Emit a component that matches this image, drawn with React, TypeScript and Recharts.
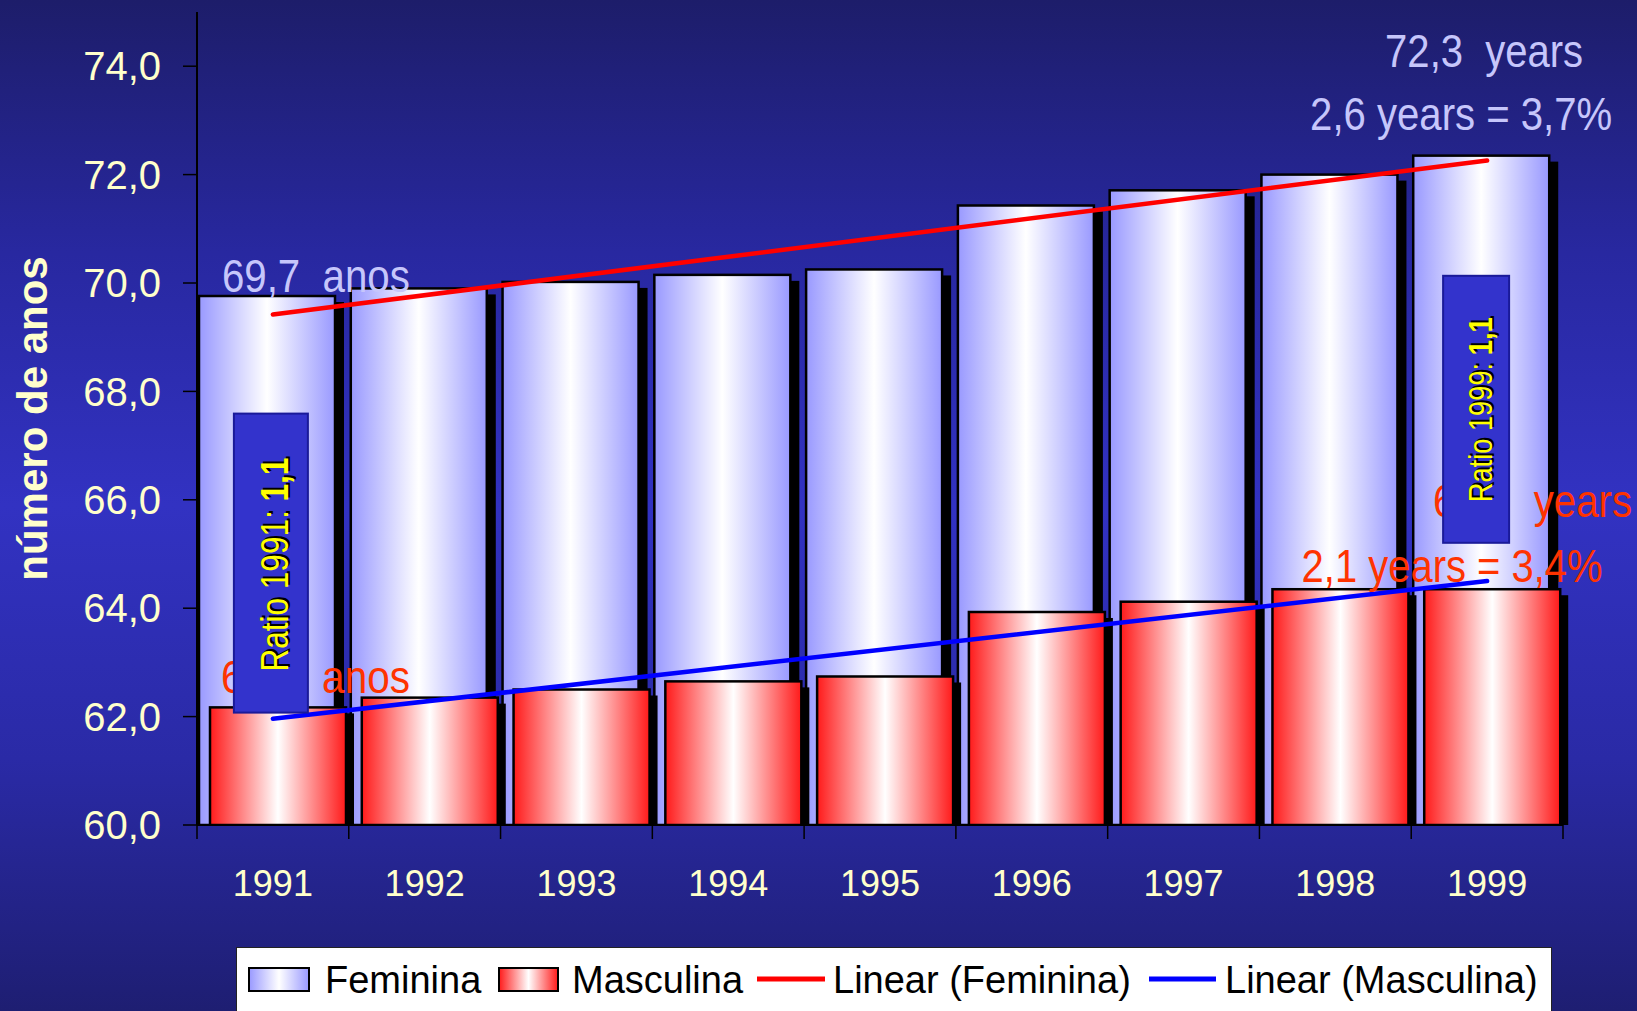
import { Bar, ComposedChart, Line, ReferenceDot, XAxis, YAxis } from "recharts"

const years = ["1991", "1992", "1993", "1994", "1995", "1996", "1997", "1998", "1999"]
const feminina = [69.76, 69.9, 70.02, 70.15, 70.25, 71.43, 71.71, 72.0, 72.35]
const masculina = [62.17, 62.35, 62.5, 62.65, 62.74, 63.93, 64.12, 64.35, 64.35]
// trend line end points (1991, 1999)
const femTrendEnds = [69.42, 72.26]
const mascTrendEnds = [61.96, 64.5]
const yTicks = [60, 62, 64, 66, 68, 70, 72, 74]

const data = years.map((year, i) => ({
  year,
  feminina: feminina[i],
  masculina: masculina[i],
  femTrend: i === 0 ? femTrendEnds[0] : i === years.length - 1 ? femTrendEnds[1] : null,
  mascTrend: i === 0 ? mascTrendEnds[0] : i === years.length - 1 ? mascTrendEnds[1] : null,
}))

const W = 1637
const H = 1011
const SANS = "'Liberation Sans', Arial, sans-serif"
const CREAM = "#ffffcc"
const LAVENDER = "#c6c6fb"
const ORANGE_RED = "#ff3300"
const X_TICK_SIZE = 14
const X_TICK_MARGIN = 31

function FemBar(props: any) {
  const { x, y, width, height } = props
  if (!height) return null
  return (
    <g>
      <rect x={x + 9} y={y + 6} width={width} height={height - 6} fill="#000" />
      <rect x={x} y={y} width={width} height={height} fill="url(#femGrad)" stroke="#000" strokeWidth={2.5} />
    </g>
  )
}

function MascBar(props: any) {
  const { x, y, width, height } = props
  if (!height) return null
  return (
    <g>
      <rect x={x + 8} y={y + 6} width={width} height={height - 6} fill="#000" />
      <rect x={x} y={y} width={width} height={height} fill="url(#mascGrad)" stroke="#000" strokeWidth={2.5} />
    </g>
  )
}

function YearTick(props: any) {
  const { x, y, payload, index, visibleTicksCount } = props
  const half = payload?.offset ?? 0
  const axisY = y - X_TICK_SIZE - X_TICK_MARGIN
  return (
    <g>
      <line x1={x - half} y1={axisY} x2={x - half} y2={axisY + X_TICK_SIZE} stroke="#000" strokeWidth={1.5} />
      {index === visibleTicksCount - 1 && (
        <line x1={x + half} y1={axisY} x2={x + half} y2={axisY + X_TICK_SIZE} stroke="#000" strokeWidth={1.5} />
      )}
      <text x={x} y={y} dy="0.71em" textAnchor="middle" fill={CREAM} fontSize={36} fontFamily={SANS}>
        {payload.value}
      </text>
    </g>
  )
}

function YLabel(props: any) {
  const { viewBox } = props
  const cx = viewBox.x - 30
  const cy = viewBox.y + viewBox.height / 2
  return (
    <text
      x={cx}
      y={cy}
      transform={`rotate(-90 ${cx} ${cy})`}
      textAnchor="middle"
      fill={CREAM}
      fontSize={42}
      fontWeight="bold"
      fontFamily={SANS}
    >
      número de anos
    </text>
  )
}

// slide annotations use a condensed face: squeeze Arial to the measured width
function Note({ x, y, color, len, children, anchor = "start" }: any) {
  return (
    <text
      x={x}
      y={y}
      fill={color}
      fontSize={46}
      fontFamily={SANS}
      textAnchor={anchor}
      textLength={len}
      lengthAdjust="spacingAndGlyphs"
      style={{ whiteSpace: "pre" }}
    >
      {children}
    </text>
  )
}

function RatioBox({ x, y, w, h, tx, ty, size, len, label }: any) {
  return (
    <g>
      <rect x={x} y={y} width={w} height={h} fill="#3333cc" stroke="#1a1a99" strokeWidth={2} />
      <g transform={`rotate(-90 ${tx} ${ty})`}>
        <text x={tx + 2} y={ty + 2} textAnchor="middle" fill="#000" fontSize={size} fontFamily={SANS} textLength={len} lengthAdjust="spacingAndGlyphs">
          {label} <tspan fontWeight="bold">1,1</tspan>
        </text>
        <text x={tx} y={ty} textAnchor="middle" fill="#ffff00" fontSize={size} fontFamily={SANS} textLength={len} lengthAdjust="spacingAndGlyphs">
          {label} <tspan fontWeight="bold">1,1</tspan>
        </text>
      </g>
    </g>
  )
}

function Legend() {
  return (
    <svg width={1316} height={70} style={{ position: "absolute", left: 236, top: 947 }}>
      <defs>
        <linearGradient id="femGradL" x1="0" y1="0" x2="1" y2="0">
          <stop offset="0" stopColor="#9999ff" />
          <stop offset="0.5" stopColor="#ffffff" />
          <stop offset="1" stopColor="#9999ff" />
        </linearGradient>
        <linearGradient id="mascGradL" x1="0" y1="0" x2="1" y2="0">
          <stop offset="0" stopColor="#ff1a1a" />
          <stop offset="0.5" stopColor="#ffffff" />
          <stop offset="1" stopColor="#ff1a1a" />
        </linearGradient>
      </defs>
      <rect x={0.5} y={0.5} width={1315} height={80} fill="#fff" stroke="#222" strokeWidth={1} />
      <rect x={13} y={21} width={60} height={23} fill="url(#femGradL)" stroke="#000" strokeWidth={2} />
      <text x={89} y={46} fontSize={38} fontFamily={SANS} fill="#000">Feminina</text>
      <rect x={263} y={21} width={59} height={23} fill="url(#mascGradL)" stroke="#000" strokeWidth={2} />
      <text x={336} y={46} fontSize={38} fontFamily={SANS} fill="#000">Masculina</text>
      <line x1={521} y1={32} x2={589} y2={32} stroke="#ff0000" strokeWidth={5} />
      <text x={597} y={46} fontSize={38} fontFamily={SANS} fill="#000">Linear (Feminina)</text>
      <line x1={913} y1={32} x2={980} y2={32} stroke="#0000ff" strokeWidth={5} />
      <text x={989} y={46} fontSize={38} fontFamily={SANS} fill="#000">Linear (Masculina)</text>
    </svg>
  )
}

export default function App() {
  return (
    <div
      style={{
        position: "absolute",
        left: 0,
        top: 0,
        width: W,
        height: H,
        overflow: "hidden",
        background: "linear-gradient(to bottom, #1d1d6a 0%, #2828a0 25%, #3232c2 50%, #2a2aa6 75%, #1e1e72 100%)",
      }}
    >
      <ComposedChart
        width={W}
        height={H}
        data={data}
        margin={{ top: 12, right: 74, left: 77, bottom: 126 }}
        barSize={136}
        barGap={-125}
      >
        <defs>
          <linearGradient id="femGrad" x1="0" y1="0" x2="1" y2="0">
            <stop offset="0" stopColor="#9999ff" />
            <stop offset="0.5" stopColor="#ffffff" />
            <stop offset="1" stopColor="#9999ff" />
          </linearGradient>
          <linearGradient id="mascGrad" x1="0" y1="0" x2="1" y2="0">
            <stop offset="0" stopColor="#ff1a1a" />
            <stop offset="0.5" stopColor="#ffffff" />
            <stop offset="1" stopColor="#ff1a1a" />
          </linearGradient>
        </defs>
        <XAxis
          dataKey="year"
          interval={0}
          height={60}
          tickLine={false}
          tickSize={X_TICK_SIZE}
          tickMargin={X_TICK_MARGIN}
          axisLine={{ stroke: "#000", strokeWidth: 2 }}
          tick={<YearTick />}
        />
        <YAxis
          domain={[60, 75]}
          ticks={yTicks}
          allowDataOverflow
          width={120}
          tickSize={14}
          tickMargin={22}
          axisLine={{ stroke: "#000", strokeWidth: 2 }}
          tickLine={{ stroke: "#000", strokeWidth: 1.5 }}
          tick={{ fill: CREAM, fontSize: 40, fontFamily: SANS }}
          tickFormatter={(v: number) => v.toFixed(1).replace(".", ",")}
          label={<YLabel />}
        />
        <Bar dataKey="feminina" shape={<FemBar />} isAnimationActive={false} />
        <Bar dataKey="masculina" shape={<MascBar />} isAnimationActive={false} />
        <Line dataKey="femTrend" stroke="#ff0000" strokeWidth={4.5} strokeLinecap="round" dot={false} connectNulls isAnimationActive={false} />
        <Line dataKey="mascTrend" stroke="#0000ff" strokeWidth={4.5} strokeLinecap="round" dot={false} connectNulls isAnimationActive={false} />

        <ReferenceDot
          x="1991"
          y={70}
          r={0}
          ifOverflow="visible"
          shape={(p: any) => <Note x={p.cx - 51} y={p.cy + 9} color={LAVENDER} len={188}>{"69,7  anos"}</Note>}
        />
        <ReferenceDot
          x="1999"
          y={74}
          r={0}
          ifOverflow="visible"
          shape={(p: any) => (
            <g>
              <Note x={p.cx - 3} y={p.cy + 1} color={LAVENDER} len={198} anchor="middle">{"72,3  years"}</Note>
              <Note x={p.cx - 26} y={p.cy + 64} color={LAVENDER} len={302} anchor="middle">{"2,6 years = 3,7%"}</Note>
            </g>
          )}
        />
        <ReferenceDot
          x="1991"
          y={62}
          r={0}
          ifOverflow="visible"
          shape={(p: any) => <Note x={p.cx - 52} y={p.cy - 24} color={ORANGE_RED} len={189}>{"62,2  anos"}</Note>}
        />
        <ReferenceDot
          x="1999"
          y={66}
          r={0}
          ifOverflow="visible"
          shape={(p: any) => (
            <g>
              <Note x={p.cx - 54} y={p.cy + 17} color={ORANGE_RED} len={199}>{"64,3  years"}</Note>
              <Note x={p.cx - 35} y={p.cy + 82} color={ORANGE_RED} len={301} anchor="middle">{"2,1 years = 3,4%"}</Note>
            </g>
          )}
        />
        <ReferenceDot
          x="1991"
          y={62}
          r={0}
          ifOverflow="visible"
          shape={(p: any) => (
            <RatioBox x={p.cx - 39} y={p.cy - 303} w={74} h={299} tx={p.cx + 15} ty={p.cy - 152} size={38} len={214} label="Ratio 1991:" />
          )}
        />
        <ReferenceDot
          x="1999"
          y={66}
          r={0}
          ifOverflow="visible"
          shape={(p: any) => (
            <RatioBox x={p.cx - 44} y={p.cy - 224} w={66} h={267} tx={p.cx + 5} ty={p.cy - 90} size={34} len={185} label="Ratio 1999:" />
          )}
        />
      </ComposedChart>
      <Legend />
    </div>
  )
}
